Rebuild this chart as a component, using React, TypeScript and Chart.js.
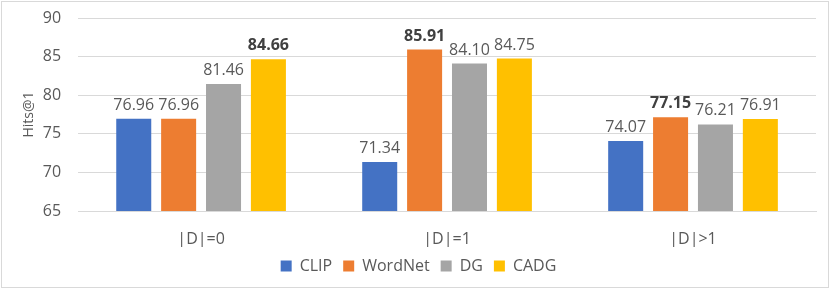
import React, { useEffect, useRef } from "react";
import { Chart, registerables } from "chart.js";

Chart.register(...registerables);

const categories = ["|D|=0", "|D|=1", "|D|>1"];
const seriesNames = ["CLIP", "WordNet", "DG", "CADG"];
const clip = [76.96, 71.34, 74.07];
const wordnet = [76.96, 85.91, 77.15];
const dg = [81.46, 84.1, 76.21];
const cadg = [84.66, 84.75, 76.91];
const colors = ["#4472C4", "#ED7D31", "#A5A5A5", "#FFC000"];
const yTicks = [65, 70, 75, 80, 85, 90];

const FONT = "'Open Sans', 'Noto Sans', sans-serif";
const TEXT = "#595959";

const labelPlugin = {
  id: "barLabels",
  afterDatasetsDraw(chart: any) {
    const ctx = chart.ctx;
    const ds = chart.data.datasets;
    const n = chart.data.labels.length;
    const maxes: number[] = [];
    for (let i = 0; i < n; i++) {
      maxes.push(Math.max(...ds.map((d: any) => d.data[i])));
    }
    ctx.save();
    ctx.textAlign = "center";
    ctx.textBaseline = "alphabetic";
    ds.forEach((d: any, di: number) => {
      const meta = chart.getDatasetMeta(di);
      meta.data.forEach((bar: any, i: number) => {
        const v = d.data[i];
        const bold = v === maxes[i];
        ctx.font = (bold ? "bold " : "") + "16px " + FONT;
        ctx.fillStyle = bold ? "#404040" : TEXT;
        ctx.fillText(v.toFixed(2), bar.x, bar.y - 9);
      });
    });
    ctx.restore();
  },
};

export default function App() {
  const ref = useRef<HTMLCanvasElement>(null);
  useEffect(() => {
    const chart = new Chart(ref.current!, {
      type: "bar",
      data: {
        labels: categories,
        datasets: [clip, wordnet, dg, cadg].map((d, i) => ({
          label: seriesNames[i],
          data: d,
          backgroundColor: colors[i],
          categoryPercentage: 0.73,
          barPercentage: 0.78,
        })),
      },
      options: {
        animation: false,
        responsive: false,
        maintainAspectRatio: false,
        layout: { padding: { left: 19, right: 12, top: 16, bottom: 1 } },
        plugins: {
          legend: {
            position: "bottom",
            labels: {
              font: { family: FONT, size: 16, lineHeight: 1 },
              color: TEXT,
              boxWidth: 11,
              boxHeight: 11,
              padding: 11,
            },
          },
          tooltip: { enabled: false },
        },
        scales: {
          x: {
            grid: { display: false, drawTicks: false },
            border: { color: "#d9d9d9" },
            ticks: { font: { family: FONT, size: 16, lineHeight: 1 }, color: TEXT, padding: 20 },
            afterFit: (s: any) => {
              s.height = 36;
            },
          },
          y: {
            min: 65,
            max: 90,
            afterBuildTicks: (axis: any) => {
              axis.ticks = yTicks.map((v) => ({ value: v }));
            },
            grid: { color: "#d9d9d9", drawTicks: true, tickLength: 14, tickColor: "rgba(0,0,0,0)" },
            border: { display: false },
            ticks: { font: { family: FONT, size: 16 }, color: TEXT, padding: 3 },
            title: {
              display: true,
              text: "Hits@1",
              font: { family: FONT, size: 14 },
              color: TEXT,
              padding: { top: 0, bottom: 2 },
            },
          },
        },
      },
      plugins: [labelPlugin],
    } as any);
    return () => chart.destroy();
  }, []);
  return (
    <div>
      <div
        style={{
          position: "fixed",
          left: 1,
          top: 1,
          width: 826,
          height: 285,
          border: "1px solid #d9d9d9",
          background: "#fff",
        }}
      />
      <canvas
        ref={ref}
        width={826}
        height={283}
        style={{ display: "block", position: "fixed", left: 2, top: 2 }}
      />
    </div>
  );
}
